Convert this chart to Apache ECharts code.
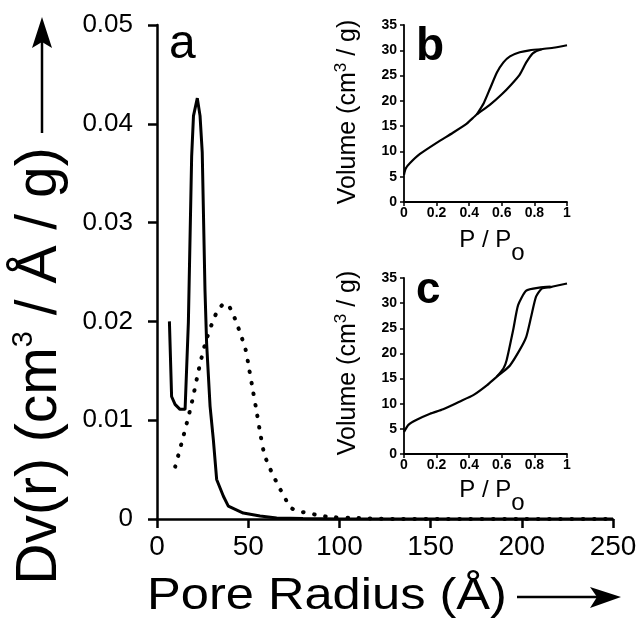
<!DOCTYPE html>
<html>
<head>
<meta charset="utf-8">
<script src="https://cdn.jsdelivr.net/npm/echarts@6/dist/echarts.min.js"></script>
<style>
html, body { margin: 0; background: #fff; }
#chart { width: 640px; height: 627px; }
</style>
</head>
<body>
<div id="chart"></div>
<script>
// main panel (a): pore size distribution
var solidRadius = [6.8, 8.0, 9.9, 12.6, 15.4, 17.2, 19.0, 20.0, 22.1, 23.6, 24.8, 26.3, 27.2, 29.1, 30.9, 32.7, 36.4, 39.1, 47.3, 56.5, 65.6, 80, 100, 150, 200, 250];
var solidDv = [0.0200, 0.0124, 0.0116, 0.0111, 0.0111, 0.0199, 0.0367, 0.0408, 0.0426, 0.0408, 0.0371, 0.0232, 0.0178, 0.0114, 0.0080, 0.0040, 0.0023, 0.0013, 0.0006, 0.0003, 0.0001, 0.00005, 0, 0, 0, 0];

var dottedRadius = [10, 14.5, 19, 23, 26.5, 30, 33, 36, 38, 40.5, 43.3, 46, 48.5, 50.5, 52.5, 54.5, 56.5, 58.8, 61.5, 64, 67, 70, 73, 77.5, 83, 88, 95, 110, 130, 250];
var dottedDv = [0.0053, 0.0084, 0.0117, 0.0152, 0.0178, 0.0197, 0.0210, 0.0217, 0.0218, 0.0212, 0.0200, 0.0186, 0.0172, 0.0152, 0.0131, 0.0110, 0.0088, 0.0066, 0.0053, 0.0043, 0.0032, 0.0022, 0.0012, 0.0008, 0.0006, 0.0004, 0.0002, 0.0001, 0, 0];

// inset (b): isotherm
var bAdsP = [0, 0.01, 0.037, 0.098, 0.2, 0.3, 0.385, 0.446, 0.53, 0.6, 0.66, 0.71, 0.75, 0.79, 0.845, 0.916, 1.0];
var bAdsV = [5.4, 6.6, 7.7, 9.5, 11.7, 13.7, 15.5, 17.3, 19.3, 21.3, 23.3, 25.2, 27.6, 29.4, 30.2, 30.5, 31.0];
var bDesP = [0.446, 0.49, 0.53, 0.57, 0.61, 0.65, 0.71, 0.77, 0.845];
var bDesV = [17.3, 19.6, 22.6, 25.6, 27.6, 28.8, 29.6, 30.0, 30.2];

// inset (c): isotherm
var cAdsP = [0, 0.027, 0.078, 0.16, 0.24, 0.34, 0.425, 0.51, 0.57, 0.61, 0.65, 0.71, 0.75, 0.78, 0.81, 0.845, 0.9, 1.0];
var cAdsV = [4.4, 5.8, 6.8, 8.0, 8.9, 10.4, 11.7, 13.7, 15.4, 16.4, 17.6, 20.7, 23.3, 27.3, 31.3, 32.9, 33.2, 33.9];
var cDesP = [0.57, 0.61, 0.63, 0.67, 0.70, 0.75, 0.83, 0.9];
var cDesV = [15.4, 17.0, 18.7, 24.7, 29.6, 32.5, 33.1, 33.3];

function zip(xs, ys) {
    var out = [];
    for (var i = 0; i < xs.length; i++) {
        out.push([xs[i], ys[i]]);
    }
    return out;
}

var FONT = '"Liberation Sans", Arial, Helvetica, sans-serif';

function mainAxis(min, max, interval, fontSize, margin) {
    return {
        type: 'value',
        min: min,
        max: max,
        interval: interval,
        axisLine: { show: true, lineStyle: { color: '#000', width: 2.5 } },
        axisTick: { show: true, length: 9, lineStyle: { color: '#000', width: 2.5 } },
        axisLabel: { color: '#000', fontSize: fontSize, fontFamily: FONT, margin: margin },
        splitLine: { show: false }
    };
}

function insetAxis(idx, min, max, interval, margin) {
    return {
        type: 'value',
        gridIndex: idx,
        min: min,
        max: max,
        interval: interval,
        axisLine: { show: true, lineStyle: { color: '#000', width: 1.8 } },
        axisTick: { show: true, length: 4, lineStyle: { color: '#000', width: 1.5 } },
        axisLabel: { color: '#000', fontSize: 14, fontWeight: 'bold', fontFamily: FONT, margin: margin },
        splitLine: { show: false }
    };
}

function txt(x, y, text, size, opts) {
    opts = opts || {};
    return {
        type: 'text',
        x: x,
        y: y,
        rotation: opts.rotation || 0,
        scaleX: opts.scaleX || 1,
        scaleY: opts.scaleY || 1,
        style: {
            text: text,
            fontSize: size,
            fontFamily: FONT,
            fontWeight: opts.bold ? 'bold' : 'normal',
            fill: '#000',
            align: opts.align || 'center',
            verticalAlign: 'middle',
            textAlign: opts.align || 'center',
            textVerticalAlign: 'middle',
            rich: opts.rich
        }
    };
}

var chart = echarts.init(document.getElementById('chart'), null, { renderer: 'canvas' });

var xMain = mainAxis(0, 250, 50, 28, 14);
var yMain = mainAxis(0, 0.05, 0.01, 26, 24);
var xB = insetAxis(1, 0, 1, 0.2, 4);
var yB = insetAxis(1, 0, 35, 5, 7);
var xC = insetAxis(2, 0, 1, 0.2, 4);
var yC = insetAxis(2, 0, 35, 5, 7);

var option = {
    animation: false,
    backgroundColor: '#fff',
    grid: [
        { left: 157, top: 25, width: 456, height: 494, outerBoundsMode: 'none' },
        { left: 404, top: 25, width: 163, height: 177, outerBoundsMode: 'none' },
        { left: 404, top: 278, width: 163, height: 176, outerBoundsMode: 'none' }
    ],
    xAxis: [xMain, xB, xC],
    yAxis: [yMain, yB, yC],
    series: [
        {
            type: 'line', xAxisIndex: 0, yAxisIndex: 0,
            data: zip(solidRadius, solidDv),
            symbol: 'none',
            lineStyle: { color: '#000', width: 3 }
        },
        {
            type: 'line', xAxisIndex: 0, yAxisIndex: 0,
            data: zip(dottedRadius, dottedDv),
            symbol: 'none',
            smooth: 0.3,
            lineStyle: { color: '#000', width: 4, type: [0.5, 10.7], cap: 'round' }
        },
        {
            type: 'line', xAxisIndex: 1, yAxisIndex: 1,
            data: zip(bAdsP, bAdsV),
            symbol: 'none', smooth: 0.2,
            lineStyle: { color: '#000', width: 2.2 }
        },
        {
            type: 'line', xAxisIndex: 1, yAxisIndex: 1,
            data: zip(bDesP, bDesV),
            symbol: 'none', smooth: 0.2,
            lineStyle: { color: '#000', width: 2.2 }
        },
        {
            type: 'line', xAxisIndex: 2, yAxisIndex: 2,
            data: zip(cAdsP, cAdsV),
            symbol: 'none', smooth: 0.2,
            lineStyle: { color: '#000', width: 2.2 }
        },
        {
            type: 'line', xAxisIndex: 2, yAxisIndex: 2,
            data: zip(cDesP, cDesV),
            symbol: 'none', smooth: 0.2,
            lineStyle: { color: '#000', width: 2.2 }
        }
    ],
    graphic: [
        // axis titles
        txt(40, 366, 'Dv(r) (cm{sup|3} / Å / g)', 57, {
            rotation: Math.PI / 2,
            rich: { sup: { fontSize: 29, fontFamily: FONT, padding: [0, 0, 32, 0] } }
        }),
        txt(147, 597, 'Pore Radius (Å)', 44, { align: 'left', scaleX: 1.15 }),
        txt(348, 112, 'Volume (cm{sup|3} / g)', 25, {
            rotation: Math.PI / 2,
            rich: { sup: { fontSize: 17, fontFamily: FONT, padding: [0, 0, 14, 0] } }
        }),
        txt(348, 363, 'Volume (cm{sup|3} / g)', 25, {
            rotation: Math.PI / 2,
            rich: { sup: { fontSize: 17, fontFamily: FONT, padding: [0, 0, 14, 0] } }
        }),
        txt(492, 240, 'P / P{sub|o}', 24, {
            rich: { sub: { fontSize: 24, fontFamily: FONT, padding: [26, 0, 0, 0] } }
        }),
        txt(492, 490, 'P / P{sub|o}', 24, {
            rich: { sub: { fontSize: 24, fontFamily: FONT, padding: [26, 0, 0, 0] } }
        }),
        // panel letters
        txt(169, 45, 'a', 48, { align: 'left' }),
        txt(416, 47, 'b', 46, { align: 'left', bold: true }),
        txt(416, 291, 'c', 44, { align: 'left', bold: true }),
        // arrows
        { type: 'line', shape: { x1: 42, y1: 133, x2: 42, y2: 40 }, style: { stroke: '#000', lineWidth: 2.5 } },
        { type: 'polygon', shape: { points: [[42, 17], [32, 48], [42, 42], [52, 48]] }, style: { fill: '#000' } },
        { type: 'line', shape: { x1: 517, y1: 597, x2: 600, y2: 597 }, style: { stroke: '#000', lineWidth: 2.5 } },
        { type: 'polygon', shape: { points: [[621, 597], [590, 587], [597, 597], [590, 608]] }, style: { fill: '#000' } }
    ]
};

chart.setOption(option);
</script>
</body>
</html>
